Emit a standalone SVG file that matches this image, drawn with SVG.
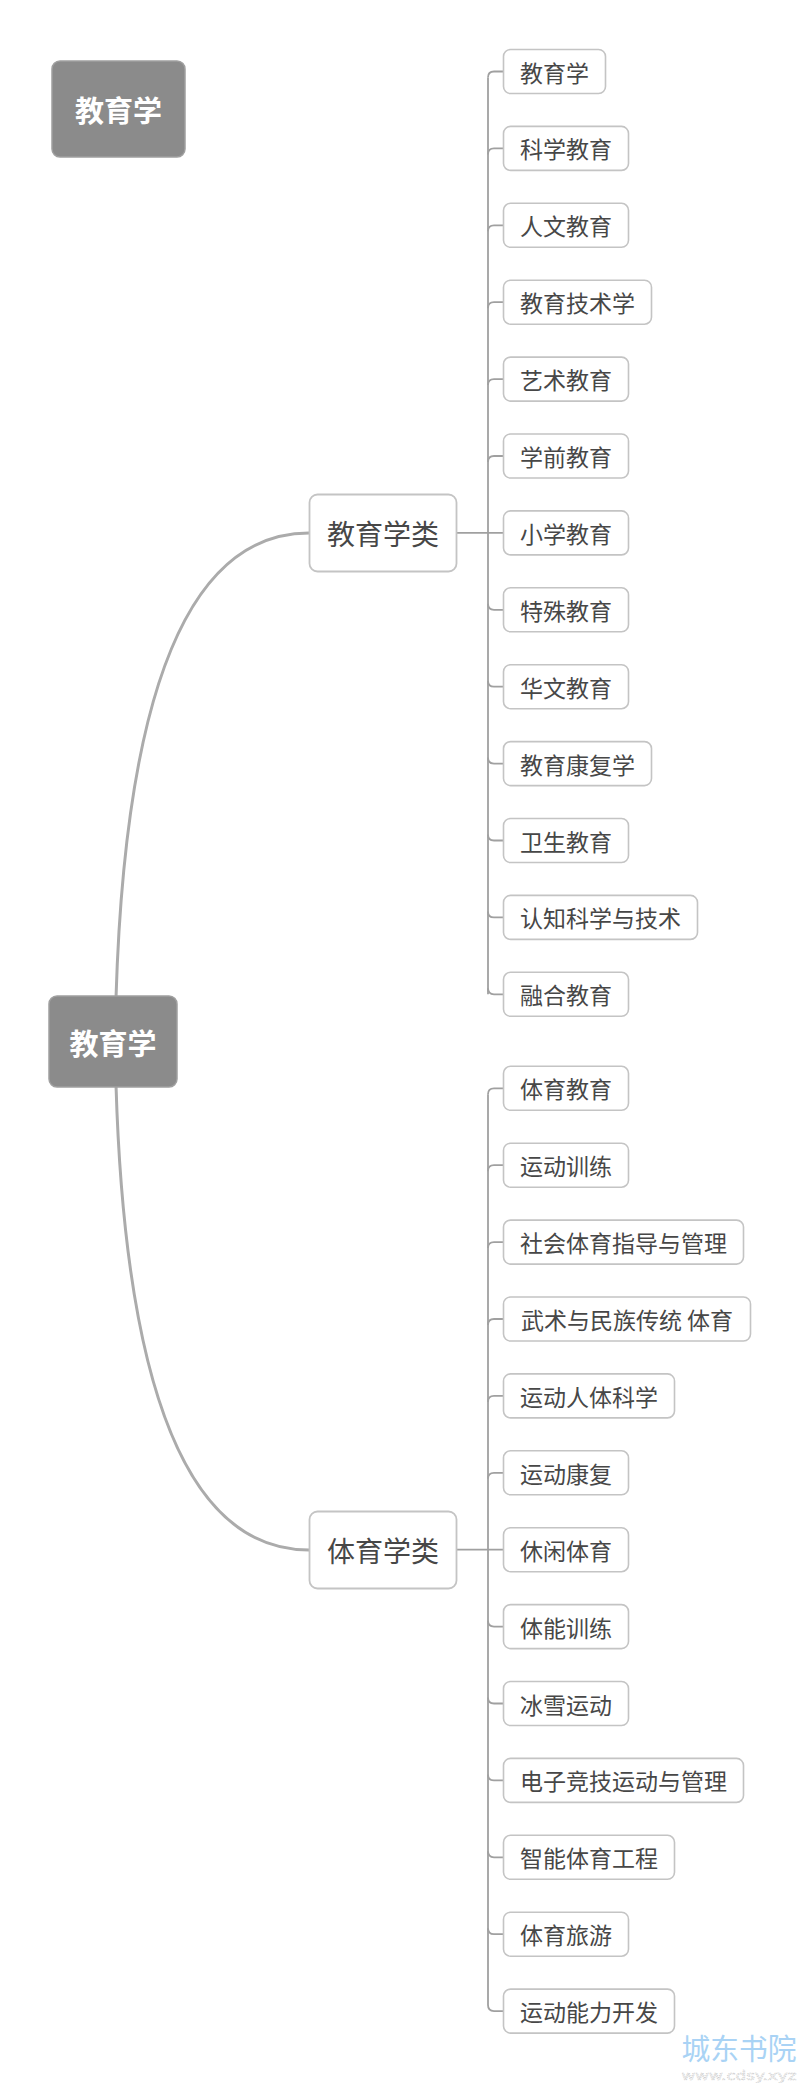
<svg xmlns="http://www.w3.org/2000/svg" width="800" height="2083" viewBox="0 0 800 2083">
<style>
.bg{fill:#fff}
.dark rect{fill:#8b8b8b;stroke:#a0a0a0;stroke-width:1.5}
.dark text{fill:#fff;font-family:"Noto Sans CJK SC",sans-serif;font-weight:bold;font-size:29px;text-anchor:middle;dominant-baseline:central}
.mid rect{fill:#fff;stroke:#c4c4c4;stroke-width:1.8}
.mid text{fill:#474747;font-family:"Noto Sans CJK SC",sans-serif;font-size:28px;text-anchor:middle;dominant-baseline:central}
.leaf rect{fill:#fff;stroke:#c4c4c4;stroke-width:1.6}
.leaf text{fill:#474747;font-family:"Noto Sans CJK SC",sans-serif;font-size:23px;text-anchor:middle;dominant-baseline:central}
.curve{fill:none;stroke:#ababab;stroke-width:3}
.line{fill:none;stroke:#a0a0a0;stroke-width:1.8}
</style>
<rect class="bg" x="0" y="0" width="800" height="2083"/>

<g id="connectors">
  <path class="curve" d="M116,998 Q130,533 309,533"/>
  <path class="curve" d="M116,1085 Q130,1550 309,1550"/>
  <!-- group 1 -->
  <path class="line" d="M457,532.9 H503.5"/>
  <path class="line" d="M488,77.5 V994.3"/>
  <path class="line" d="M488,77.5 Q488,71.5 494,71.5 H503.5"/>
  <path class="line" d="M488,154.4 Q488,148.4 494,148.4 H503.5"/>
  <path class="line" d="M488,231.3 Q488,225.3 494,225.3 H503.5"/>
  <path class="line" d="M488,308.2 Q488,302.2 494,302.2 H503.5"/>
  <path class="line" d="M488,385.1 Q488,379.1 494,379.1 H503.5"/>
  <path class="line" d="M488,462 Q488,456 494,456 H503.5"/>
  <path class="line" d="M488,603.8 Q488,609.8 494,609.8 H503.5"/>
  <path class="line" d="M488,680.7 Q488,686.7 494,686.7 H503.5"/>
  <path class="line" d="M488,757.6 Q488,763.6 494,763.6 H503.5"/>
  <path class="line" d="M488,834.5 Q488,840.5 494,840.5 H503.5"/>
  <path class="line" d="M488,911.4 Q488,917.4 494,917.4 H503.5"/>
  <path class="line" d="M488,988.3 Q488,994.3 494,994.3 H503.5"/>
  <!-- group 2 -->
  <path class="line" d="M457,1549.7 H503.5"/>
  <path class="line" d="M488,1094.3 V2005.1"/>
  <path class="line" d="M488,1094.3 Q488,1088.3 494,1088.3 H503.5"/>
  <path class="line" d="M488,1171.2 Q488,1165.2 494,1165.2 H503.5"/>
  <path class="line" d="M488,1248.1 Q488,1242.1 494,1242.1 H503.5"/>
  <path class="line" d="M488,1325 Q488,1319 494,1319 H503.5"/>
  <path class="line" d="M488,1401.9 Q488,1395.9 494,1395.9 H503.5"/>
  <path class="line" d="M488,1478.8 Q488,1472.8 494,1472.8 H503.5"/>
  <path class="line" d="M488,1620.6 Q488,1626.6 494,1626.6 H503.5"/>
  <path class="line" d="M488,1697.5 Q488,1703.5 494,1703.5 H503.5"/>
  <path class="line" d="M488,1774.4 Q488,1780.4 494,1780.4 H503.5"/>
  <path class="line" d="M488,1851.3 Q488,1857.3 494,1857.3 H503.5"/>
  <path class="line" d="M488,1928.2 Q488,1934.2 494,1934.2 H503.5"/>
  <path class="line" d="M488,2005.1 Q488,2011.1 494,2011.1 H503.5"/>
</g>

<g id="floating" class="dark"><rect x="52" y="61" width="133" height="96" rx="8"/><text x="118.5" y="109">教育学</text></g>
<g id="root" class="dark"><rect x="49" y="996" width="128" height="91" rx="8"/><text x="113" y="1041.5">教育学</text></g>

<g id="edu" class="mid"><rect x="309.5" y="494.5" width="147" height="77" rx="8"/><text x="383" y="533">教育学类</text></g>
<g id="pe" class="mid"><rect x="309.5" y="1511.5" width="147" height="77" rx="8"/><text x="383" y="1550">体育学类</text></g>

<g id="e1" class="leaf"><rect x="503.5" y="49.5" width="102" height="44" rx="7"/><text x="554.5" y="71.5">教育学</text></g>
<g id="e2" class="leaf"><rect x="503.5" y="126.4" width="125" height="44" rx="7"/><text x="566" y="148.4">科学教育</text></g>
<g id="e3" class="leaf"><rect x="503.5" y="203.3" width="125" height="44" rx="7"/><text x="566" y="225.3">人文教育</text></g>
<g id="e4" class="leaf"><rect x="503.5" y="280.2" width="148" height="44" rx="7"/><text x="577.5" y="302.2">教育技术学</text></g>
<g id="e5" class="leaf"><rect x="503.5" y="357.1" width="125" height="44" rx="7"/><text x="566" y="379.1">艺术教育</text></g>
<g id="e6" class="leaf"><rect x="503.5" y="434" width="125" height="44" rx="7"/><text x="566" y="456">学前教育</text></g>
<g id="e7" class="leaf"><rect x="503.5" y="510.9" width="125" height="44" rx="7"/><text x="566" y="532.9">小学教育</text></g>
<g id="e8" class="leaf"><rect x="503.5" y="587.8" width="125" height="44" rx="7"/><text x="566" y="609.8">特殊教育</text></g>
<g id="e9" class="leaf"><rect x="503.5" y="664.7" width="125" height="44" rx="7"/><text x="566" y="686.7">华文教育</text></g>
<g id="e10" class="leaf"><rect x="503.5" y="741.6" width="148" height="44" rx="7"/><text x="577.5" y="763.6">教育康复学</text></g>
<g id="e11" class="leaf"><rect x="503.5" y="818.5" width="125" height="44" rx="7"/><text x="566" y="840.5">卫生教育</text></g>
<g id="e12" class="leaf"><rect x="503.5" y="895.4" width="194" height="44" rx="7"/><text x="600.5" y="917.4">认知科学与技术</text></g>
<g id="e13" class="leaf"><rect x="503.5" y="972.3" width="125" height="44" rx="7"/><text x="566" y="994.3">融合教育</text></g>

<g id="p1" class="leaf"><rect x="503.5" y="1066.3" width="125" height="44" rx="7"/><text x="566" y="1088.3">体育教育</text></g>
<g id="p2" class="leaf"><rect x="503.5" y="1143.2" width="125" height="44" rx="7"/><text x="566" y="1165.2">运动训练</text></g>
<g id="p3" class="leaf"><rect x="503.5" y="1220.1" width="240" height="44" rx="7"/><text x="623.5" y="1242.1">社会体育指导与管理</text></g>
<g id="p4" class="leaf"><rect x="503.5" y="1297" width="247" height="44" rx="7"/><text x="627" y="1319">武术与民族传统 体育</text></g>
<g id="p5" class="leaf"><rect x="503.5" y="1373.9" width="171" height="44" rx="7"/><text x="589" y="1395.9">运动人体科学</text></g>
<g id="p6" class="leaf"><rect x="503.5" y="1450.8" width="125" height="44" rx="7"/><text x="566" y="1472.8">运动康复</text></g>
<g id="p7" class="leaf"><rect x="503.5" y="1527.7" width="125" height="44" rx="7"/><text x="566" y="1549.7">休闲体育</text></g>
<g id="p8" class="leaf"><rect x="503.5" y="1604.6" width="125" height="44" rx="7"/><text x="566" y="1626.6">体能训练</text></g>
<g id="p9" class="leaf"><rect x="503.5" y="1681.5" width="125" height="44" rx="7"/><text x="566" y="1703.5">冰雪运动</text></g>
<g id="p10" class="leaf"><rect x="503.5" y="1758.4" width="240" height="44" rx="7"/><text x="623.5" y="1780.4">电子竞技运动与管理</text></g>
<g id="p11" class="leaf"><rect x="503.5" y="1835.3" width="171" height="44" rx="7"/><text x="589" y="1857.3">智能体育工程</text></g>
<g id="p12" class="leaf"><rect x="503.5" y="1912.2" width="125" height="44" rx="7"/><text x="566" y="1934.2">体育旅游</text></g>
<g id="p13" class="leaf"><rect x="503.5" y="1989.1" width="171" height="44" rx="7"/><text x="589" y="2011.1">运动能力开发</text></g>

<g id="watermark">
  <text x="739" y="2060" font-family="Noto Sans CJK SC,sans-serif" font-size="29" fill="#a9d3f5" text-anchor="middle" textLength="115" lengthAdjust="spacingAndGlyphs">城东书院</text>
  <text x="739" y="2080" font-family="DejaVu Sans,sans-serif" font-size="13" fill="#f4f4f4" stroke="#c8c8c8" stroke-width="0.6" stroke-dasharray="1 1" text-anchor="middle" textLength="115" lengthAdjust="spacingAndGlyphs">www.cdsy.xyz</text>
</g>
</svg>
